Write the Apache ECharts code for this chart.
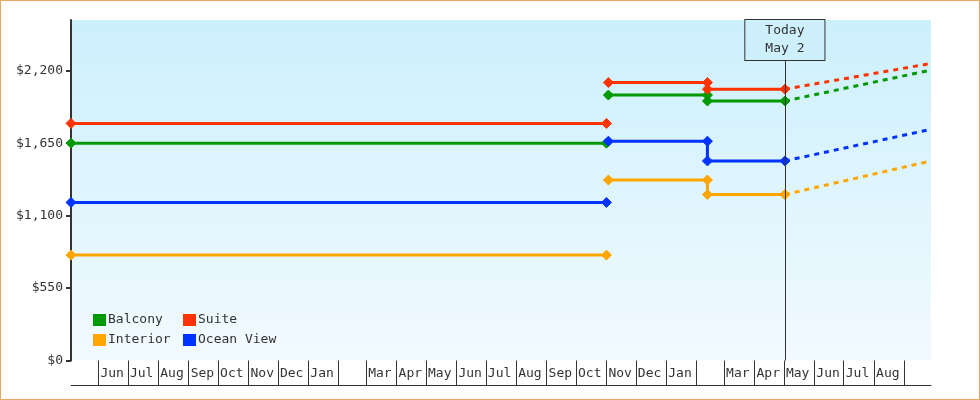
<!DOCTYPE html>
<html>
<head>
<meta charset="utf-8">
<title>Cabin price history</title>
<script src="https://cdn.jsdelivr.net/npm/echarts@6.0.0/dist/echarts.min.js"></script>
<style>
  html, body { margin: 0; padding: 0; background: #fff; }
  #chart { width: 980px; height: 400px; outline: 1px solid #e9a860; outline-offset: -1px; }
</style>
</head>
<body>
<div id="chart"></div>
<script>
// 舱位名称与颜色
const cabinNames = ['Balcony', 'Suite', 'Interior', 'Ocean View'];
const cabinColors = ['#009900', '#ff3300', '#ffa500', '#0033ff'];

// 历史价格的日期（'-' 处断开）
const priceDates = ['2021-05-04', '2022-11-01', '2022-11-02', '2022-11-03', '2023-02-12', '2023-02-12', '2023-05-02'];
const balconyPrices = [1650, 1650, '-', 2015, 2015, 1970, 1970];
const suitePrices = [1800, 1800, '-', 2110, 2110, 2060, 2060];
const interiorPrices = [800, 800, '-', 1370, 1370, 1260, 1260];
const oceanViewPrices = [1200, 1200, '-', 1665, 1665, 1515, 1515];

// 预测（虚线）
const forecastDates = ['2023-05-02', '2023-09-28'];
const balconyForecast = [1970, 2205];
const suiteForecast = [2060, 2255];
const interiorForecast = [1260, 1515];
const oceanViewForecast = [1515, 1755];

// 坐标轴
const axisStart = '2021-05-04';
const axisEnd = '2023-09-28';
const todayDate = '2023-05-02';
const todayLabel = 'Today\nMay 2';
const monthStarts = [
  '2021-06-01', '2021-07-01', '2021-08-01', '2021-09-01', '2021-10-01', '2021-11-01', '2021-12-01',
  '2022-01-01', '2022-02-01', '2022-03-01', '2022-04-01', '2022-05-01', '2022-06-01', '2022-07-01',
  '2022-08-01', '2022-09-01', '2022-10-01', '2022-11-01', '2022-12-01', '2023-01-01', '2023-02-01',
  '2023-03-01', '2023-04-01', '2023-05-01', '2023-06-01', '2023-07-01', '2023-08-01', '2023-09-01'
];
const monthLabels = [
  'Jun', 'Jul', 'Aug', 'Sep', 'Oct', 'Nov', 'Dec',
  'Jan', '', 'Mar', 'Apr', 'May', 'Jun', 'Jul',
  'Aug', 'Sep', 'Oct', 'Nov', 'Dec', 'Jan', '',
  'Mar', 'Apr', 'May', 'Jun', 'Jul', 'Aug', ''
];
const priceTicks = [0, 550, 1100, 1650, 2200];
const priceMax = 2585;

const historyValues = [balconyPrices, suitePrices, interiorPrices, oceanViewPrices];
const forecastValues = [balconyForecast, suiteForecast, interiorForecast, oceanViewForecast];

// 日期 -> 时间戳（x 轴用数值轴）
const toTime = s => new Date(s + 'T00:00:00').getTime();
const monthTimes = monthStarts.map(toTime);
const labelByTime = new Map(monthTimes.map((t, i) => [t, monthLabels[i]]));

const FONT = '"DejaVu Sans Mono", monospace';
const INK = '#333';

const series = [];
cabinNames.forEach((name, i) => {
  series.push({
    name: name,
    type: 'line',
    data: priceDates.map((d, k) => [toTime(d), historyValues[i][k]]),
    connectNulls: false,
    symbol: 'diamond',
    symbolSize: 10,
    lineStyle: { width: 3, color: cabinColors[i] },
    itemStyle: { color: cabinColors[i], borderColor: cabinColors[i], borderWidth: 1 },
    z: 3
  });
});
cabinNames.forEach((name, i) => {
  series.push({
    name: name,
    type: 'line',
    data: forecastDates.map((d, k) => [toTime(d), forecastValues[i][k]]),
    showSymbol: false,
    symbol: 'none',
    lineStyle: { width: 3, color: cabinColors[i], type: [5, 5], cap: 'butt' },
    itemStyle: { color: cabinColors[i] },
    z: 2
  });
});

// 今天的竖线和标签
series[0].markLine = {
  silent: true,
  symbol: ['none', 'none'],
  animation: false,
  lineStyle: { color: INK, width: 1, type: 'solid' },
  label: {
    show: true,
    position: 'end',
    distance: -40,
    formatter: todayLabel,
    fontFamily: FONT,
    fontSize: 13,
    color: INK,
    lineHeight: 18,
    align: 'center',
    backgroundColor: '#cdf0fc',
    borderColor: INK,
    borderWidth: 1,
    padding: [2, 20, 2, 20]
  },
  data: [{ xAxis: toTime(todayDate) }]
};

const legendBase = {
  orient: 'vertical', top: 313, padding: 0,
  icon: 'rect', itemWidth: 11, itemHeight: 10, itemGap: 6,
  textStyle: { fontFamily: FONT, fontSize: 13, color: INK, lineHeight: 14, padding: [0, 0, 0, -2] }
};

const chart = echarts.init(document.getElementById('chart'));
chart.setOption({
  animation: false,
  textStyle: { fontFamily: FONT },
  grid: {
    left: 71, right: 49, top: 20, bottom: 39.5,
    show: true,
    borderWidth: 0,
    backgroundColor: new echarts.graphic.LinearGradient(0, 0, 0, 1, [
      { offset: 0, color: '#ccf0fc' },
      { offset: 1, color: '#f2faff' }
    ])
  },
  legend: [
    Object.assign({}, legendBase, { data: [cabinNames[0], cabinNames[2]], left: 93 }),
    Object.assign({}, legendBase, { data: [cabinNames[1], cabinNames[3]], left: 183 })
  ],
  xAxis: [
    {
      type: 'value',
      min: toTime(axisStart),
      max: toTime(axisEnd),
      axisLine: { show: false },
      axisTick: {
        show: true, inside: false, length: 25,
        customValues: monthTimes,
        lineStyle: { color: INK, width: 1 }
      },
      axisLabel: {
        customValues: monthTimes,
        formatter: v => labelByTime.get(v) || '',
        align: 'left',
        padding: [0, 0, 0, 2],
        margin: 7,
        fontFamily: FONT,
        fontSize: 13,
        color: INK,
        hideOverlap: false
      },
      splitLine: { show: false }
    },
    {
      type: 'value',
      min: toTime(axisStart),
      max: toTime(axisEnd),
      position: 'bottom',
      offset: 25,
      axisLine: { show: true, lineStyle: { color: INK, width: 1 } },
      axisTick: { show: false },
      axisLabel: { show: false },
      splitLine: { show: false }
    }
  ],
  yAxis: {
    type: 'value',
    min: 0,
    max: priceMax,
    axisLine: { show: true, lineStyle: { color: INK, width: 2 } },
    axisTick: { show: true, length: 5, customValues: priceTicks, lineStyle: { color: INK, width: 2 } },
    axisLabel: {
      customValues: priceTicks,
      formatter: v => '$' + v.toLocaleString('en-US'),
      margin: 8,
      fontFamily: FONT,
      fontSize: 13,
      color: INK
    },
    splitLine: { show: false }
  },
  series: series
});
</script>
</body>
</html>
